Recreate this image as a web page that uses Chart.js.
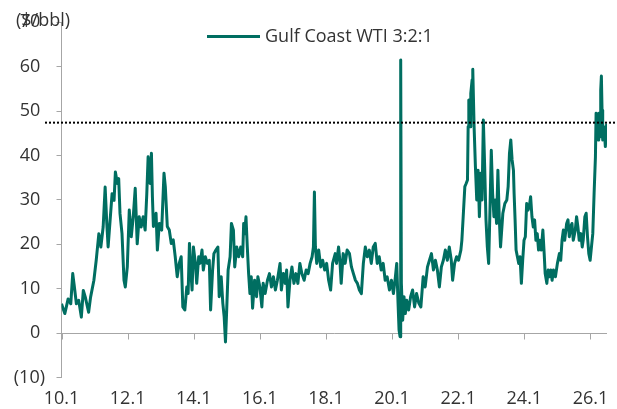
<!DOCTYPE html>
<html>
<head>
<meta charset="utf-8">
<script src="https://cdn.jsdelivr.net/npm/chart.js@4.4.1/dist/chart.umd.min.js"></script>
<style>
html,body{margin:0;padding:0;background:#fff;}
#wrap{width:617px;height:409px;position:relative;}
</style>
</head>
<body>
<div id="wrap"><canvas id="c" width="617" height="409"></canvas></div>
<script>
// ---------------- data ----------------
const seriesName = 'Gulf Coast WTI 3:2:1';
const unitLabel = '($/bbl)';

// decimal years
const years = [
  2010.00,2010.05,2010.10,2010.15,2010.20,2010.28,2010.34,2010.38,2010.45,2010.52,2010.60,2010.66,2010.72,2010.82,2010.88,2010.98,
  2011.05,2011.13,2011.19,2011.26,2011.32,2011.37,2011.41,2011.47,2011.53,2011.59,2011.63,2011.69,2011.73,2011.77,2011.83,2011.89,2011.93,2011.99,
  2012.05,2012.11,2012.17,2012.23,2012.29,2012.35,2012.41,2012.47,2012.53,2012.58,2012.62,2012.68,2012.72,2012.75,2012.78,2012.86,2012.90,2012.96,
  2013.03,2013.10,2013.14,2013.20,2013.26,2013.32,2013.38,2013.44,2013.50,2013.56,2013.62,2013.67,2013.73,2013.79,2013.83,2013.87,2013.91,2013.95,2013.99,
  2014.05,2014.09,2014.15,2014.19,2014.25,2014.29,2014.35,2014.41,2014.47,2014.51,2014.57,2014.61,2014.67,2014.73,2014.77,2014.83,2014.88,2014.92,2014.96,
  2015.00,2015.04,2015.10,2015.14,2015.20,2015.24,2015.30,2015.36,2015.42,2015.48,2015.51,2015.54,2015.58,2015.62,2015.66,2015.70,2015.74,2015.78,2015.84,2015.90,2015.94,
  2016.00,2016.06,2016.10,2016.16,2016.23,2016.29,2016.35,2016.41,2016.47,2016.53,2016.61,2016.65,2016.71,2016.77,2016.81,2016.85,2016.91,2016.97,
  2017.03,2017.09,2017.15,2017.21,2017.27,2017.34,2017.40,2017.46,2017.52,2017.58,2017.62,2017.65,2017.68,2017.72,2017.78,2017.84,2017.90,2017.96,
  2018.02,2018.08,2018.14,2018.20,2018.28,2018.32,2018.38,2018.42,2018.46,2018.52,2018.58,2018.64,2018.71,2018.77,2018.83,2018.89,2018.95,
  2019.01,2019.07,2019.13,2019.19,2019.25,2019.31,2019.37,2019.43,2019.49,2019.55,2019.61,2019.67,2019.73,2019.79,2019.85,2019.92,2019.98,
  2020.04,2020.10,2020.14,2020.18,2020.21,2020.24,2020.26,2020.28,2020.32,2020.36,2020.40,2020.44,2020.50,2020.56,2020.62,2020.68,2020.74,2020.81,2020.87,2020.94,
  2021.00,2021.07,2021.13,2021.19,2021.25,2021.31,2021.37,2021.43,2021.49,2021.55,2021.61,2021.67,2021.73,2021.79,2021.83,2021.89,2021.95,
  2022.01,2022.08,2022.11,2022.15,2022.20,2022.24,2022.28,2022.30,2022.32,2022.36,2022.38,2022.42,2022.44,2022.48,2022.52,2022.56,2022.60,2022.64,2022.68,2022.72,2022.76,2022.80,2022.84,2022.88,2022.92,2022.96,
  2023.00,2023.04,2023.08,2023.12,2023.16,2023.20,2023.24,2023.28,2023.35,2023.41,2023.47,2023.51,2023.55,2023.59,2023.63,2023.67,2023.69,2023.72,2023.75,2023.79,2023.83,2023.87,2023.91,2023.95,2023.99,
  2024.03,2024.07,2024.11,2024.15,2024.19,2024.23,2024.27,2024.31,2024.35,2024.39,2024.43,2024.47,2024.51,2024.56,2024.60,2024.63,2024.68,2024.72,2024.76,2024.80,2024.84,2024.88,2024.94,
  2025.00,2025.06,2025.10,2025.14,2025.18,2025.22,2025.28,2025.32,2025.36,2025.40,2025.44,2025.48,2025.54,2025.58,2025.62,2025.66,2025.71,2025.75,2025.78,2025.83,2025.87,2025.91,2025.95,2025.99,
  2026.03,2026.07,2026.11,2026.15,2026.17,2026.21,2026.23,2026.25,2026.29,2026.31,2026.33,2026.35,2026.37,2026.41,2026.45,2026.49
];

// $/bbl
const values = [
  6.6,5.5,4.4,6.0,7.7,6.6,13.4,11,6.6,7.4,3.6,9.6,8.1,4.7,8.1,11.9,
  16.4,22.4,19.4,23.9,32.9,24.7,19.4,25.4,31.4,29.9,36.3,33.7,34.8,26.9,22.4,11.9,10.4,14.9,
  27.7,21.7,26.2,32.6,20.1,26.2,23.9,26.2,23.2,31.4,39.7,33.7,40.5,30.7,24,27,18.7,24.7,
  23.2,36,33,24,23.2,20.2,21,17.2,12.7,15.7,17.2,5.9,5.2,10.4,8.9,20.2,14.2,9.7,19.4,
  15.7,11.2,17.2,15.7,18.7,14.2,17.2,15.7,16.4,5.2,14.2,17.9,18.7,19.4,8.2,12.7,6.7,3.7,-2,
  5.9,14.2,17.2,24.7,23.2,14.9,19.4,17.2,19.4,17.2,24.7,22.4,26.2,19.4,13.4,8.9,12.7,5.6,11.9,8.2,12.7,
  10.4,5.9,11.2,8.9,11.9,13.4,10.4,12.7,9.7,11.9,15.7,9.7,13.4,11.2,14.2,5.9,11.9,14.9,
  11.2,13.4,11.2,15.7,13.4,11.9,14.2,13.4,15.7,17.2,19.4,31.8,19.4,15.7,18.7,14.9,16.4,14.2,
  15.7,11.9,9.7,15.7,17.9,15.7,19.4,16.4,11.2,17.9,15.7,18.7,17.9,14.9,13.4,11.9,11.2,
  9.7,8.9,15.7,19.4,17.2,18.7,15.7,19.4,20.2,15.7,17.2,14.2,15.7,11.9,12.7,9.7,11.9,
  8.9,12.7,15.7,6.7,0.7,-0.8,61.5,11.2,2.9,8.2,4.4,7.4,5.2,8.2,9.7,5.9,8.9,6.7,5.9,12.7,
  10.4,14.9,16.4,17.9,14.2,16.4,14.2,10.4,14.9,16.4,18.7,16.4,19.4,16.4,11.9,15.7,17.2,
  16.4,18.7,20.9,26.2,33,33.7,34.5,46.5,52.5,46.5,54,57,59.4,46.5,37.5,30,36.7,26.2,36,30,48,37.5,25.5,19.4,15.7,27.7,
  41.2,31.5,26.2,30,24.7,36.7,26.2,19.4,27,29.2,30,33,40.5,43.5,39,36.7,31.5,25.5,18.7,17.2,15.7,17.2,11.2,16.4,20.9,
  21.7,29.2,27.7,28.5,30.7,26.2,23.9,25.5,20.9,22.4,18.7,20.9,18.7,23.2,17.9,13.4,11.2,14.2,12.7,14.2,11.9,14.2,12.7,
  15.7,17.9,16.4,20.9,23.2,20.9,24.7,25.5,21.7,23.9,24.7,20.9,23.2,26.2,23.9,20.9,22.4,19.4,20.9,26.2,27,21.7,17.9,16.4,
  19.4,22.4,31.5,39.7,49.5,48,43.5,49.5,44.2,54.7,57.9,50.2,43.5,46.5,42,47.2
];

const xTickYears = [2010,2012,2014,2016,2018,2020,2022,2024,2026];
const yTickValues = [-10,0,10,20,30,40,50,60,70];
const refLevel = 47.4;           // dotted reference level
const xMin = 2010, xMax = 2026.5;
const yMin = -10, yMax = 70;

// ---------------- styling ----------------
const FONT = "'Open Sans', sans-serif";
const TEXT = '#333333';
const AXIS = '#a6a6a6';
const LINE = '#006e61';

const points = years.map((x, i) => ({ x: x, y: values[i] }));

const decor = {
  id: 'decor',
  beforeDatasetsDraw(chart) {
    const { ctx, chartArea: a, scales: { x, y } } = chart;
    const y0 = Math.round(y.getPixelForValue(0)) + 0.5;
    ctx.save();
    ctx.strokeStyle = AXIS;
    ctx.lineWidth = 1;
    ctx.beginPath();
    ctx.moveTo(a.left, y0);
    ctx.lineTo(a.right, y0);
    xTickYears.forEach(v => {
      const px = Math.round(x.getPixelForValue(v)) + 0.5;
      ctx.moveTo(px, y0);
      ctx.lineTo(px, y0 + 6);
    });
    ctx.stroke();
    ctx.restore();
  },
  afterDraw(chart) {
    const { ctx, scales: { y } } = chart;
    ctx.save();
    // dotted reference line
    const yr = y.getPixelForValue(refLevel);
    ctx.strokeStyle = '#000';
    ctx.lineWidth = 2;
    ctx.setLineDash([2, 2]);
    ctx.beginPath();
    ctx.moveTo(45, yr);
    ctx.lineTo(617, yr);
    ctx.stroke();
    ctx.setLineDash([]);
    // unit label
    ctx.font = "18px " + FONT;
    ctx.fillStyle = TEXT;
    ctx.textAlign = 'left';
    ctx.textBaseline = 'middle';
    ctx.fillText(unitLabel, 16, 21);
    // legend
    ctx.strokeStyle = LINE;
    ctx.lineWidth = 3;
    ctx.beginPath();
    ctx.moveTo(207, 36.5);
    ctx.lineTo(260, 36.5);
    ctx.stroke();
    ctx.fillText(seriesName, 265, 37);
    ctx.restore();
  }
};

new Chart(document.getElementById('c'), {
  type: 'line',
  data: {
    datasets: [{
      label: seriesName,
      data: points,
      borderColor: LINE,
      backgroundColor: LINE,
      borderWidth: 3,
      borderJoinStyle: 'round',
      pointRadius: 0,
      tension: 0,
      fill: false
    }]
  },
  options: {
    responsive: false,
    animation: false,
    devicePixelRatio: 1,
    layout: { padding: { top: 22, right: 10, left: 0, bottom: 0 } },
    plugins: { legend: { display: false }, tooltip: { enabled: false } },
    scales: {
      x: {
        type: 'linear',
        min: xMin, max: xMax,
        afterBuildTicks: s => { s.ticks = xTickYears.map(v => ({ value: v })); },
        ticks: {
          callback: v => String(v - 2000).padStart(2, '0') + '.1',
          maxRotation: 0, autoSkip: false, padding: 3,
          color: TEXT, font: { family: FONT, size: 18 }
        },
        grid: { display: false },
        border: { display: false },
        afterFit: s => { s.height = 31.5; }
      },
      y: {
        min: yMin, max: yMax,
        afterBuildTicks: s => { s.ticks = yTickValues.map(v => ({ value: v })); },
        ticks: {
          callback: v => v < 0 ? '(' + (-v) + ')' : v + ' ',
          padding: 11.5,
          color: TEXT, font: { family: FONT, size: 18 }
        },
        grid: { display: true, drawOnChartArea: false, drawTicks: true, tickLength: 5, color: AXIS },
        border: { display: true, color: AXIS, width: 1 },
        afterFit: s => { s.width = 61.5; }
      }
    }
  },
  plugins: [decor]
});
</script>
</body>
</html>
